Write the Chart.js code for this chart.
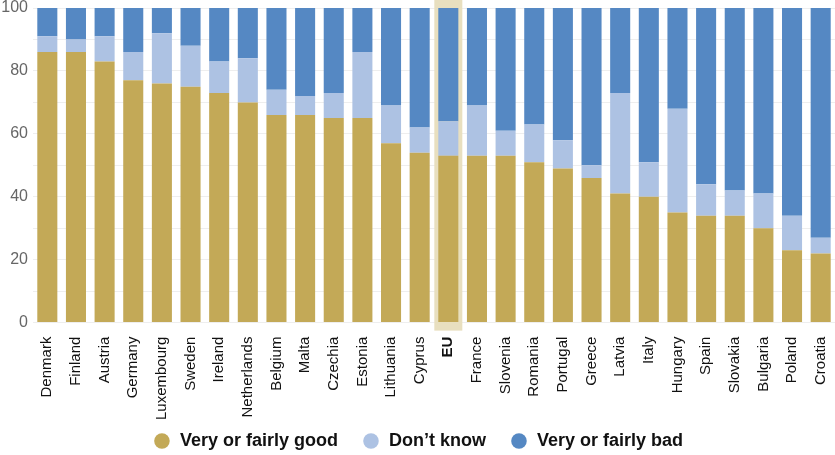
<!DOCTYPE html>
<html>
<head>
<meta charset="utf-8">
<script src="https://cdn.jsdelivr.net/npm/chart.js@4/dist/chart.umd.min.js"></script>
<style>
  html, body { margin: 0; padding: 0; background: #fff; }
  #wrap { width: 835px; height: 455px; }
</style>
</head>
<body>
<div id="wrap"><canvas id="chart"></canvas></div>
<script>
// Дані
const countries = ['Denmark', 'Finland', 'Austria', 'Germany', 'Luxembourg', 'Sweden', 'Ireland', 'Netherlands',
    'Belgium', 'Malta', 'Czechia', 'Estonia', 'Lithuania', 'Cyprus', 'EU', 'France', 'Slovenia', 'Romania',
    'Portugal', 'Greece', 'Latvia', 'Italy', 'Hungary', 'Spain', 'Slovakia', 'Bulgaria', 'Poland', 'Croatia'];
const good    = [86, 86, 83, 77, 76, 75, 73, 70, 66, 66, 65, 65, 57, 54, 53, 53, 53, 51, 49, 46, 41, 40, 35, 34, 34, 30, 23, 22];
const dontKnow = [5, 4, 8, 9, 16, 13, 10, 14, 8, 6, 8, 21, 12, 8, 11, 16, 8, 12, 9, 4, 32, 11, 33, 10, 8, 11, 11, 5];
const bad     = [9, 10, 9, 14, 8, 12, 17, 16, 26, 28, 27, 14, 31, 38, 36, 31, 39, 37, 42, 50, 27, 49, 32, 56, 58, 59, 66, 73];
const highlight = 'EU';

const FONT = "'Liberation Sans', Arial, sans-serif";

// Підсвітка стовпця EU під барами
const highlightPlugin = {
    id: 'highlight',
    beforeDatasetsDraw(chart) {
        const x = chart.scales.x;
        const area = chart.chartArea;
        const i = countries.indexOf(highlight);
        if (i < 0) return;
        const cx = x.getPixelForValue(i);
        const c = chart.ctx;
        c.save();
        c.fillStyle = '#e8dfbf';
        c.fillRect(cx - 14, area.top - 8, 28, area.bottom - area.top + 16);
        c.restore();
    }
};

new Chart(document.getElementById('chart'), {
    type: 'bar',
    data: {
        labels: countries,
        datasets: [
            { label: 'Very or fairly good', data: good, backgroundColor: '#c3a957' },
            { label: 'Don\u2019t know', data: dontKnow, backgroundColor: '#adc2e3' },
            { label: 'Very or fairly bad', data: bad, backgroundColor: '#5588c3' }
        ]
    },
    options: {
        responsive: true,
        maintainAspectRatio: false,
        animation: false,
        barPercentage: 0.7,
        categoryPercentage: 1,
        layout: { padding: { top: 0, right: -1, left: 0, bottom: -5 } },
        plugins: {
            tooltip: { enabled: false },
            legend: {
                position: 'bottom',
                labels: {
                    usePointStyle: true,
                    pointStyle: 'circle',
                    boxWidth: 18,
                    boxHeight: 11,
                    padding: 9,
                    color: '#111',
                    font: { family: FONT, size: 18, weight: 'bold' },
                    // трохи більше місця між пунктами легенди
                    generateLabels: chart => {
                        const items = Chart.defaults.plugins.legend.labels.generateLabels(chart);
                        items.forEach((it, i) => { if (i < items.length - 1) it.text += '   '; });
                        return items;
                    }
                }
            }
        },
        scales: {
            x: {
                stacked: true,
                grid: { display: false, drawTicks: false },
                border: { display: false },
                // підписи займають менше місця, ніж рахує Chart.js
                afterFit: s => { s.paddingLeft = 0; s.paddingRight = 0; s.height -= 11; },
                ticks: {
                    maxRotation: 90,
                    minRotation: 90,
                    autoSkip: false,
                    color: '#111',
                    padding: 14,
                    font: ctx => ({
                        family: FONT,
                        size: 15,
                        weight: countries[ctx.index] === highlight ? 'bold' : 'normal'
                    })
                }
            },
            y: {
                stacked: true,
                min: 0,
                max: 100,
                grid: { color: '#eeeeee', drawTicks: false },
                border: { display: false },
                afterFit: s => { s.width = 33; s.paddingTop = 8; s.paddingBottom = 0; },
                ticks: {
                    stepSize: 10,
                    padding: 5,
                    color: '#666',
                    font: { family: FONT, size: 16 },
                    callback: v => (v % 20 === 0 ? v : '')
                }
            }
        }
    },
    plugins: [highlightPlugin]
});
</script>
</body>
</html>
